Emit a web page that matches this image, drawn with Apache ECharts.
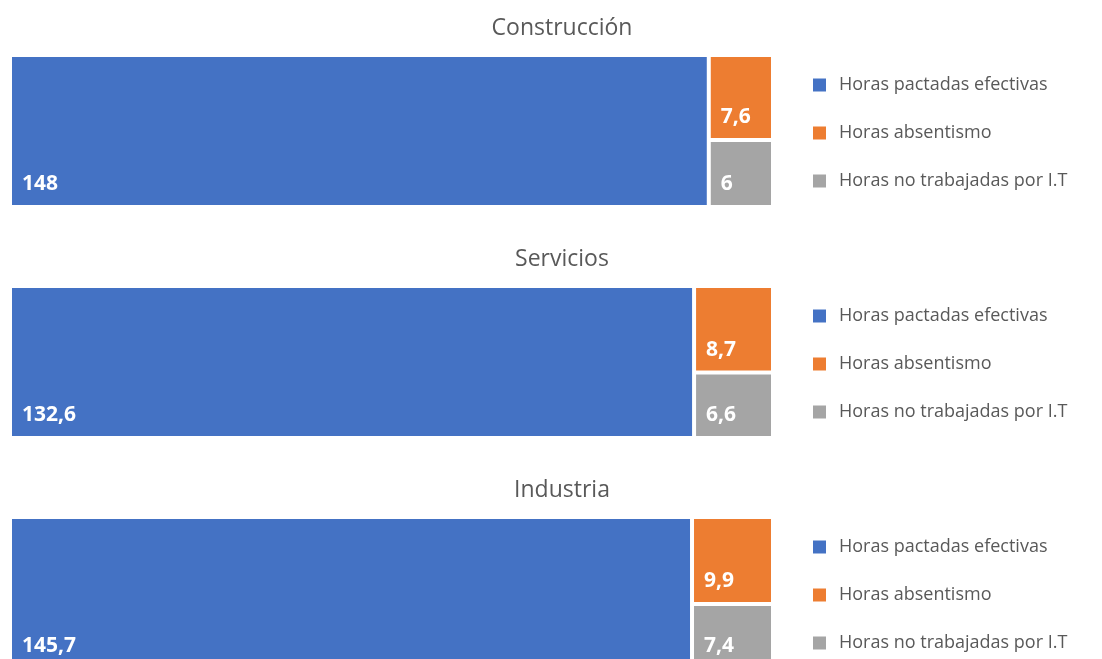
<!DOCTYPE html>
<html>
<head>
<meta charset="utf-8">
<script src="https://cdn.jsdelivr.net/npm/echarts@6/dist/echarts.min.js"></script>
<style>
  html, body { margin: 0; padding: 0; background: #fff; }
  #chart { width: 1102px; height: 659px; }
</style>
</head>
<body>
<div id="chart"></div>
<script>
// sectors and their hour breakdown
const sectors = ['Construcción', 'Servicios', 'Industria']
const categories = ['Horas pactadas efectivas', 'Horas absentismo', 'Horas no trabajadas por I.T']
const horasPactadas = [148, 132.6, 145.7]
const horasAbsentismo = [7.6, 8.7, 9.9]
const horasIT = [6, 6.6, 7.4]
const colors = ['#4472C4', '#ED7D31', '#A5A5A5']

const font = 'Open Sans'
const panelTop = [57, 288, 519]
const panelH = 148

const chart = echarts.init(document.getElementById('chart'))

const fmt = v => String(v).replace('.', ',')

const treemaps = sectors.map((s, i) => ({
  type: 'treemap',
  name: s,
  left: 12,
  top: panelTop[i],
  width: 759,
  height: panelH,
  roam: false,
  nodeClick: false,
  silent: true,
  breadcrumb: { show: false },
  itemStyle: { gapWidth: 4, borderWidth: 0, borderColor: '#fff' },
  levels: [{ itemStyle: { gapWidth: 4, borderWidth: 0, borderColor: '#fff' } }],
  label: {
    show: true,
    position: 'insideBottomLeft',
    distance: 5,
    color: '#fff',
    fontWeight: 'bold',
    fontSize: 21,
    fontFamily: font,
    formatter: p => fmt(p.value)
  },
  data: [horasPactadas[i], horasAbsentismo[i], horasIT[i]].map((v, k) => ({
    name: categories[k],
    value: v,
    itemStyle: { color: colors[k] }
  }))
}))

// empty series so the legends have something to point at
const legendSeries = categories.map((c, k) => ({
  type: 'bar',
  name: c,
  data: [],
  itemStyle: { color: colors[k] }
}))

const option = {
  animation: false,
  title: sectors.map((s, i) => ({
    text: s,
    left: 562,
    textAlign: 'center',
    padding: 0,
    top: panelTop[i] - 40,
    textStyle: { color: '#595959', fontSize: 23, fontWeight: 'normal', fontFamily: font }
  })),
  legend: sectors.map((s, i) => ({
    orient: 'vertical',
    left: 808,
    top: panelTop[i] + 13,
    height: 200,
    icon: 'rect',
    itemWidth: 13,
    itemHeight: 13,
    itemGap: 28,
    selectedMode: false,
    data: categories,
    textStyle: { color: '#595959', fontSize: 18, fontFamily: font, lineHeight: 20, padding: [0, 0, 0, 8] }
  })),
  grid: { show: false, left: 0, top: 0, width: 1, height: 1 },
  xAxis: { show: false, type: 'category', data: [] },
  yAxis: { show: false, type: 'value' },
  series: [...treemaps, ...legendSeries]
}

chart.setOption(option)
</script>
</body>
</html>
